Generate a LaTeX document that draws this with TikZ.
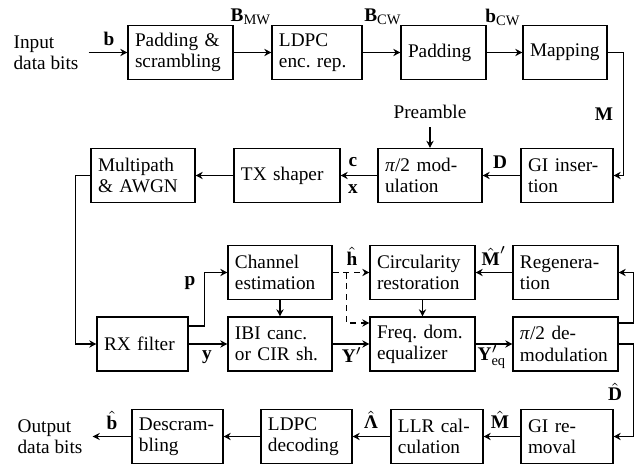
\documentclass[tikz,border=0pt]{standalone}
\usepackage{amsmath}
\usepackage{fontspec}
\setmainfont{Liberation Serif}
\usetikzlibrary{arrows.meta,calc}

\def\pxl{0.415pt}
\newcommand{\bv}[1]{\text{\textbf{#1}}}

\begin{document}
\begin{tikzpicture}[x=\pxl,y=-\pxl,font=\fontsize{8}{8.8}\selectfont,line width=0.45pt,
  blk/.style={draw,align=left,inner xsep=2.9pt,inner ysep=0pt,minimum height=22.4pt,text width=(#1-14)*\pxl},
  io/.style={align=left,inner xsep=4pt},
  lbl/.style={inner sep=0pt},
  arr/.style={-{Stealth[length=3pt,width=3pt,inset=1pt]}}]
\useasboundingbox (0,0) rectangle (638,468);

% transmitter
\node[io] (src) at (46,52.5) {Input\\data bits};
\node[blk=105] (scr) at (180.5,52.5) {Padding \&\\scrambling};
\node[blk=90] (enc) at (317,52.5) {LDPC\\enc.\ rep.};
\node[blk=85] (pad) at (443.5,52.5) {Padding};
\node[blk=84] (map) at (565,52.5) {Mapping};
\node[blk=92] (gii) at (567,175.5) {GI inser-\\tion};
\node[blk=104] (mod) at (430,175.5) {\textit{π}/2 mod-\\ulation};
\node[blk=106] (txs) at (287,175.5) {TX shaper};
\node[blk=104] (chn) at (143,175.5) {Multipath\\\& AWGN};
\node (pre) at (430,112) {Preamble};

% receiver
\node[blk=91] (rxf) at (142.5,344) {RX filter};
\node[blk=104] (est) at (280,272.5) {Channel\\estimation};
\node[blk=104] (ibi) at (280,344) {IBI canc.\\or CIR sh.};
\node[blk=105] (cir) at (422.5,272.5) {Circularity\\restoration};
\node[blk=105] (fde) at (422.5,344) {Freq.\ dom.\\equalizer};
\node[blk=105] (reg) at (565.5,272.5) {Regenera-\\tion};
\node[blk=105] (dem) at (565.5,344) {\textit{π}/2 de-\\modulation};
\node[blk=92] (gir) at (567,436.5) {GI re-\\moval};
\node[blk=92] (llr) at (437,436.5) {LLR cal-\\culation};
\node[blk=91] (dec) at (306.5,436.5) {LDPC\\decoding};
\node[blk=91] (dsc) at (177.5,436.5) {Descram-\\bling};
\node[io] (snk) at (50,436.5) {Output\\data bits};

\draw[arr] (src) -- (scr);
\draw[arr] (scr) -- (enc);
\draw[arr] (enc) -- (pad);
\draw[arr] (pad) -- (map);
\draw[arr] (map.east) -- ++(16,0) |- (gii.east);
\draw[arr] (gii) -- (mod);
\draw[arr] (pre) -- (mod);
\draw[arr] (mod) -- (txs);
\draw[arr] (txs) -- (chn);
\draw[arr] (chn.west) -- ++(-15,0) |- (rxf.west);

\draw[arr] (rxf) -- (ibi);
\draw[arr] ($(rxf.east)+(0,-18)$) -- ++(16,0) |- (est.west);
\draw[arr] (est) -- (ibi);
\draw[arr] (ibi) -- (fde);
\draw[arr] (cir) -- (fde);
\draw[arr] (fde) -- (dem);
\draw[arr] (reg) -- (cir);
\draw[arr,dash pattern=on 2.5pt off 2pt] (est) -- (cir);
\draw[arr,dash pattern=on 2.5pt off 2pt] ($(est.east)+(14,0)$) |- ($(fde.west)+(0,-21)$);
\draw[arr] ($(dem.east)+(0,-21)$) -- ++(15,0) |- (reg.east);
\draw[arr] (dem.east) -- ++(15,0) |- (gir.east);
\draw[arr] (gir) -- (llr);
\draw[arr] (llr) -- (dec);
\draw[arr] (dec) -- (dsc);
\draw[arr] (dsc) -- (snk);

% signal labels
\node[lbl] (lb) at (109,39) {$\bv{b}$};
\node[lbl] (lbmw) at (251,17) {$\bv{B}_{\text{MW}}$};
\node[lbl] (lbcw) at (383,17) {$\bv{B}_{\text{CW}}$};
\node[lbl] (lbcws) at (503,17) {$\bv{b}_{\text{CW}}$};
\node[lbl] (lm) at (604,114) {$\bv{M}$};
\node[lbl] (ld) at (500,162) {$\bv{D}$};
\node[lbl] (lc) at (353,162) {$\bv{c}$};
\node[lbl] (lx) at (353,189) {$\bv{x}$};
\node[lbl] (lp) at (190,283) {$\bv{p}$};
\node[lbl] (ly) at (207,357) {$\bv{y}$};
\node[lbl] (lh) at (352,256) {$\hat{\bv{h}}$};
\node[lbl] (lmr) at (494,256) {$\hat{\bv{M}}'$};
\node[lbl] (lyp) at (352,355) {$\bv{Y}'$};
\node[lbl] (lyeq) at (492,357) {$\bv{Y}'_{\text{eq}}$};
\node[lbl] (ldh) at (615,392) {$\hat{\bv{D}}$};
\node[lbl] (lmh) at (500,420) {$\hat{\bv{M}}$};
\node[lbl] (llam) at (371,420) {$\hat{\bv{Λ}}$};
\node[lbl] (lbh) at (112,420) {$\hat{\bv{b}}$};
\end{tikzpicture}
\end{document}
